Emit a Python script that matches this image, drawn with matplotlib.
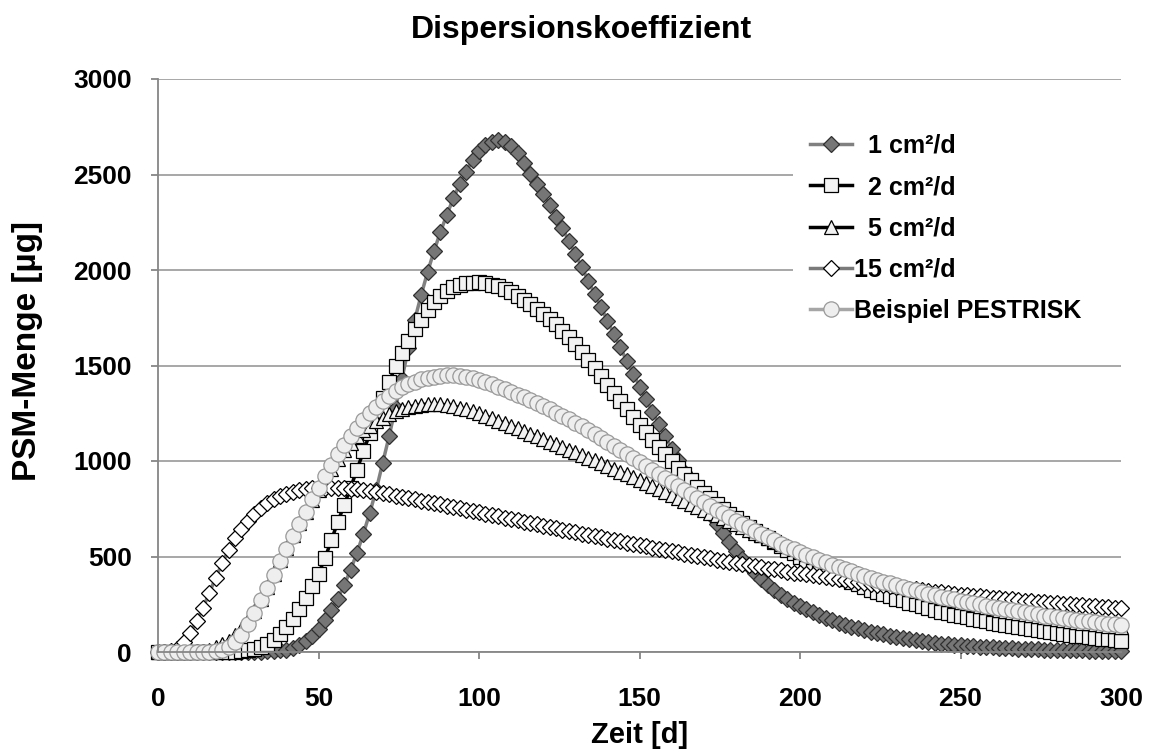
import matplotlib
matplotlib.use("Agg")
import matplotlib.pyplot as plt

# values, one point every 2 days (0..300)
days = list(range(0, 301, 2))

cm1 = [0, 0, 0, 0, 0, 0, 0, 0, 0, 0,
       0, 0, 0, 0, 1, 1, 2, 3, 5, 8,
       12, 20, 35, 55, 85, 120, 165, 220, 280, 350,
       430, 520, 620, 730, 850, 990, 1130, 1280, 1430, 1590,
       1740, 1870, 1990, 2100, 2200, 2290, 2375, 2450, 2515, 2575,
       2625, 2655, 2672, 2680, 2672, 2650, 2610, 2560, 2505, 2452,
       2400, 2340, 2280, 2218, 2152, 2085, 2015, 1945, 1875, 1805,
       1735, 1665, 1595, 1525, 1458, 1390, 1324, 1258, 1193, 1129,
       1065, 1005, 945, 887, 831, 775, 723, 671, 622, 575,
       530, 489, 449, 413, 380, 350, 325, 301, 280, 259,
       240, 224, 208, 193, 178, 165, 154, 143, 133, 124,
       115, 107, 99, 92, 85, 78, 72, 66, 61, 56,
       52, 48, 44, 41, 38, 35, 33, 30, 28, 26,
       24, 22, 21, 19, 18, 16, 15, 14, 13, 12,
       11, 10, 9, 9, 8, 7, 7, 6, 6, 5,
       5]

cm2 = [0, 0, 0, 0, 0, 0, 0, 0, 0, 0,
       0, 1, 2, 4, 8, 15, 25, 42, 65, 95,
       130, 175, 225, 285, 345, 410, 490, 585, 680, 770,
       860, 955, 1050, 1145, 1240, 1330, 1415, 1495, 1565, 1630,
       1690, 1740, 1790, 1830, 1865, 1890, 1910, 1922, 1930, 1934,
       1935, 1932, 1924, 1914, 1900, 1885, 1866, 1845, 1822, 1797,
       1770, 1743, 1715, 1683, 1648, 1610, 1570, 1530, 1488, 1445,
       1400, 1358, 1316, 1274, 1232, 1190, 1150, 1110, 1072, 1035,
       1000, 965, 931, 898, 866, 835, 805, 775, 747, 722,
       700, 678, 656, 634, 614, 595, 575, 556, 536, 517,
       495, 478, 461, 444, 428, 412, 397, 382, 368, 354,
       340, 327, 314, 302, 291, 280, 270, 259, 249, 240,
       230, 221, 212, 204, 196, 188, 181, 174, 167, 160,
       153, 147, 141, 135, 130, 124, 119, 114, 109, 104,
       99, 95, 91, 86, 82, 78, 74, 70, 66, 62,
       58]

cm5 = [0, 0, 0, 0, 0, 1, 3, 7, 13, 25,
       40, 60, 88, 122, 165, 215, 275, 340, 410, 480,
       545, 610, 675, 735, 795, 850, 905, 960, 1010, 1055,
       1095, 1130, 1160, 1185, 1207, 1227, 1245, 1260, 1272, 1282,
       1290, 1295, 1298, 1299, 1297, 1293, 1287, 1279, 1270, 1260,
       1250, 1237, 1224, 1211, 1198, 1185, 1171, 1157, 1143, 1129,
       1115, 1101, 1087, 1073, 1059, 1045, 1031, 1017, 1003, 989,
       975, 960, 945, 930, 915, 900, 884, 868, 852, 836,
       820, 805, 790, 775, 760, 745, 730, 715, 700, 685,
       670, 655, 640, 625, 610, 595, 581, 567, 553, 539,
       525, 512, 498, 485, 472, 459, 447, 435, 423, 411,
       400, 389, 378, 368, 358, 348, 339, 330, 321, 312,
       303, 295, 287, 279, 271, 263, 256, 249, 242, 235,
       228, 222, 216, 210, 204, 198, 193, 188, 182, 177,
       172, 168, 163, 158, 154, 150, 146, 142, 138, 134,
       130]

cm15 = [0, 1, 5, 18, 50, 100, 160, 230, 310, 390,
        465, 535, 595, 645, 688, 724, 755, 780, 800, 816,
        829, 840, 848, 854, 858, 860, 861, 861, 860, 858,
        855, 851, 847, 842, 837, 831, 825, 819, 813, 806,
        800, 793, 787, 780, 773, 766, 759, 752, 745, 738,
        731, 724, 717, 710, 703, 697, 690, 683, 676, 669,
        662, 655, 648, 641, 634, 627, 620, 613, 607, 600,
        593, 586, 580, 573, 566, 560, 553, 547, 540, 534,
        527, 521, 515, 508, 502, 496, 490, 484, 478, 472,
        466, 460, 454, 449, 443, 437, 432, 427, 421, 416,
        411, 406, 401, 396, 391, 386, 381, 376, 371, 367,
        362, 358, 353, 349, 345, 340, 336, 332, 328, 324,
        320, 316, 312, 309, 305, 301, 298, 294, 291, 288,
        284, 281, 278, 275, 272, 269, 266, 263, 260, 257,
        254, 252, 249, 246, 244, 241, 239, 236, 234, 232,
        230]

pestrisk = [0, 0, 0, 0, 0, 0, 0, 0, 0, 3,
            10, 25, 50, 90, 145, 205, 270, 335, 405, 475,
            540, 605, 670, 735, 800, 860, 920, 980, 1035, 1085,
            1130, 1175, 1215, 1250, 1285, 1315, 1342, 1365, 1385, 1402,
            1416, 1427, 1436, 1442, 1446, 1448, 1448, 1446, 1441, 1434,
            1425, 1413, 1401, 1389, 1376, 1362, 1348, 1333, 1318, 1303,
            1287, 1270, 1253, 1236, 1218, 1200, 1181, 1162, 1142, 1122,
            1102, 1081, 1060, 1039, 1018, 997, 975, 954, 932, 911,
            890, 869, 848, 827, 806, 786, 766, 746, 726, 707,
            688, 670, 652, 634, 617, 600, 584, 568, 552, 537,
            523, 509, 495, 482, 469, 457, 445, 433, 422, 410,
            399, 389, 378, 368, 359, 349, 340, 331, 322, 314,
            306, 298, 290, 283, 276, 269, 262, 255, 249, 242,
            236, 230, 224, 218, 213, 207, 202, 197, 191, 187,
            182, 178, 173, 169, 164, 160, 156, 152, 148, 145,
            141]

labels = ["  1 cm²/d", "  2 cm²/d", "  5 cm²/d", "15 cm²/d", "Beispiel PESTRISK"]

plt.rcParams['font.family'] = ['Liberation Sans', 'DejaVu Sans']
plt.rcParams['font.weight'] = 'bold'

fig = plt.figure(figsize=(11.53, 7.56), dpi=100)
ax = fig.add_axes([158 / 1153, 104 / 756, 963 / 1153, 573 / 756])

styles = [
    dict(color='#808080', marker='D', ms=8, mfc='#767676', mec='#303030'),
    dict(color='black', marker='s', ms=9.5, mfc='#f2f2f2', mec='black'),
    dict(color='black', marker='^', ms=10.5, mfc='#f2f2f2', mec='black'),
    dict(color='#7a7a7a', marker='D', ms=8, mfc='white', mec='black'),
    dict(color='#a6a6a6', marker='o', ms=11, mfc='#eeeeee', mec='#999999'),
]
for lab, vals, st in zip(labels, [cm1, cm2, cm5, cm15, pestrisk], styles):
    ax.plot(days, vals, label=lab, lw=2.5, mew=0.9, clip_on=False, **st)

ax.set_xlim(0, 300)
ax.set_ylim(0, 3000)
ax.set_xticks(range(0, 301, 50))
ax.set_yticks(range(0, 3001, 500))
ax.yaxis.grid(True, color='#a0a0a0', lw=1.3)
ax.set_axisbelow(True)
for s in ['top', 'right']:
    ax.spines[s].set_visible(False)
for s in ['left', 'bottom']:
    ax.spines[s].set_color('#868686')
    ax.spines[s].set_linewidth(1.3)
ax.tick_params(colors='#868686', labelcolor='black', length=5, width=1.3, labelsize=19)
ax.tick_params(axis='x', pad=20)
ax.tick_params(axis='y', pad=14)

ax.set_xlabel('Zeit [d]', fontsize=21, fontweight='bold', va='center')
ax.xaxis.set_label_coords(0.5, -0.145)
ax.set_ylabel('PSM-Menge [µg]', fontsize=24, fontweight='bold', va='center')
ax.yaxis.set_label_coords(-0.136, 0.525)
fig.text(0.504, 0.960, 'Dispersionskoeffizient', ha='center', va='center',
         fontsize=23, fontweight='bold')

leg = ax.legend(loc='upper left', bbox_to_anchor=(0.659, 0.0, 0.341, 0.934), mode='expand',
                borderaxespad=0, fontsize=18, frameon=True, fancybox=False, framealpha=1,
                facecolor='white', edgecolor='none', numpoints=1, handlelength=1.68,
                handletextpad=0.1, labelspacing=0.69, borderpad=0.68)

fig.savefig('out.png', dpi=100)
